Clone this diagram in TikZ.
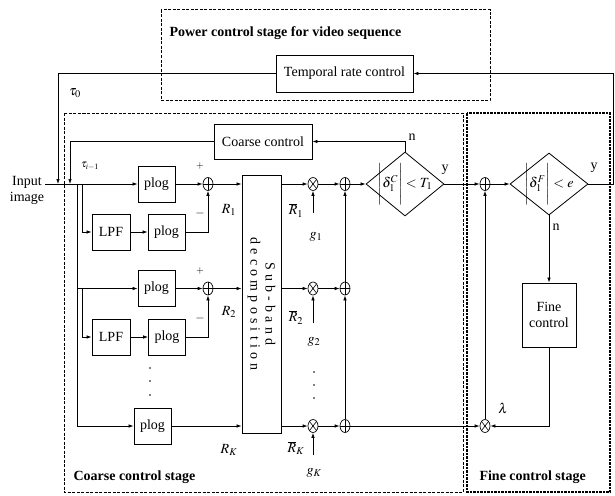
\documentclass[tikz,border=0pt]{standalone}
\usepackage{mathptmx}
\usepackage{fontspec}
\setmainfont{Liberation Serif}
\usetikzlibrary{arrows.meta,shapes.geometric}
\begin{document}
\begin{tikzpicture}[x=1pt,y=-1pt,
  font=\fontsize{14}{16}\selectfont,
  box/.style={draw, line width=0.8pt, inner sep=0pt, align=center},
  sumnode/.style={ellipse, draw, line width=0.7pt, minimum width=10pt, minimum height=13pt, inner sep=0pt,
    path picture={\draw[line width=0.6pt] (path picture bounding box.north)--(path picture bounding box.south)
      (path picture bounding box.west)--(path picture bounding box.east);}},
  mulnode/.style={ellipse, draw, line width=0.7pt, minimum width=10pt, minimum height=13pt, inner sep=0pt,
    path picture={\draw[line width=0.6pt] (path picture bounding box.north west)--(path picture bounding box.south east)
      (path picture bounding box.south west)--(path picture bounding box.north east);}},
  conn/.style={line width=0.7pt, -{Latex[length=5pt,width=3.5pt]}},
  wire/.style={line width=0.7pt},
  stagebox/.style={line width=1pt, dash pattern=on 3pt off 1.5pt},
  finebox/.style={line width=1.6pt, dash pattern=on 2.5pt off 1pt},
  stagelabel/.style={font=\fontsize{14}{16}\selectfont\bfseries},
  diam/.style={diamond, draw, line width=0.8pt, inner sep=0pt},
  dotc/.style={circle, fill, inner sep=0pt, minimum size=1.8pt}
]
\useasboundingbox (0,0) rectangle (615,495);

% stage boxes
\draw[stagebox] (161,10) rectangle (490,100);
\draw[stagebox] (64,113) rectangle (463,492);
\draw[finebox] (467,113) rectangle (610,492);
\node[stagelabel, anchor=west] (pcs) at (166,33) {Power control stage for video sequence};
\node[stagelabel, anchor=west] (ccs) at (70,477) {Coarse control stage};
\node[stagelabel, anchor=west] (fcs) at (476,477) {Fine control stage};

% blocks
\node[box, minimum width=137pt, minimum height=37pt] (temporal) at (344.5,73.5) {Temporal rate control};
\node[box, minimum width=98pt, minimum height=35pt] (coarse) at (263,141.5) {Coarse control};
\node[box, minimum width=37pt, minimum height=36pt] (plog1) at (156.5,184) {plog};
\node[box, minimum width=38pt, minimum height=36pt] (lpf1) at (111,232) {LPF};
\node[box, minimum width=37pt, minimum height=36pt] (plog1b) at (166.5,232) {plog};
\node[box, minimum width=37pt, minimum height=36pt] (plog2) at (156.5,288.5) {plog};
\node[box, minimum width=38pt, minimum height=36pt] (lpf2) at (111,337) {LPF};
\node[box, minimum width=37pt, minimum height=36pt] (plog2b) at (167,337) {plog};
\node[box, minimum width=37pt, minimum height=36pt] (plogN) at (152.5,426) {plog};
\node[box, minimum width=39pt, minimum height=258pt,
  label={[rotate=-90, align=center, font=\fontsize{14}{15}\selectfont\addfontfeature{LetterSpace=30}]center:Sub-band\\decomposition}] (sub) at (261.5,304) {};
\node[box, minimum width=54pt, minimum height=64pt] (fc) at (549,315) {Fine\\control};

% sum / product nodes
\node[sumnode] (s1) at (208,184) {};
\node[sumnode] (s2) at (208,288.5) {};
\node[mulnode] (m1) at (313,184) {};
\node[mulnode] (m2) at (313,288.5) {};
\node[mulnode] (mN) at (313,426) {};
\node[sumnode] (a1) at (345,184) {};
\node[sumnode] (a2) at (345,288.5) {};
\node[sumnode] (aN) at (345,426) {};
\node[sumnode] (s4) at (485,184) {};
\node[mulnode] (m4) at (485,426) {};

% decisions
\node[diam, minimum width=78pt, minimum height=64pt,
  label={center:$\Bigg|\delta_1^{C}\Bigg|<T_1$}] (d1) at (405,184) {};
\node[diam, minimum width=78pt, minimum height=62pt,
  label={center:$\Bigg|\delta_1^{F}\Bigg|<e$}] (d2) at (549,184) {};

% coordinates
\coordinate (inl) at (45,184);
\coordinate (t0) at (58,184);
\coordinate (ti) at (70,184);
\coordinate (b1) at (77,184);
\coordinate (b2) at (82,184);
\coordinate (b3) at (77,288.5);
\coordinate (b4) at (82,288.5);
\coordinate (outr) at (613,184);
\coordinate (g1c) at (313,213);
\coordinate (g2c) at (313,323);
\coordinate (gNc) at (313,455);

% left part
\node[align=center] (inp) at (27,190) {Input\\image};
\draw[conn] (inl) -- (plog1.west);
\draw[conn] (temporal.west) -| (t0);
\draw[conn] (coarse.west) -| (ti);
\draw[conn] (b1) |- (plogN.west);
\draw[conn] (b2) |- (lpf1.west);
\draw[conn] (b3) -- (plog2.west);
\draw[conn] (b4) |- (lpf2.west);
\draw[conn] (lpf1) -- (plog1b);
\draw[conn] (lpf2) -- (plog2b);
\draw[conn] (plog1) -- (s1);
\draw[conn] (plog2) -- (s2);
\draw[conn] (plog1b.east) -| (s1.south);
\draw[conn] (plog2b.east) -| (s2.south);
\draw[conn] (s1.east) -- (s1.east -| sub.west);
\draw[conn] (s2.east) -- (s2.east -| sub.west);
\draw[conn] (plogN.east) -- (plogN.east -| sub.west);

% right of sub-band
\draw[conn] (m1.west -| sub.east) -- (m1.west);
\draw[conn] (m2.west -| sub.east) -- (m2.west);
\draw[conn] (mN.west -| sub.east) -- (mN.west);
\draw[conn] (m1) -- (a1);
\draw[conn] (m2) -- (a2);
\draw[conn] (mN) -- (aN);
\draw[conn] (aN.north) -- (a2.south);
\draw[conn] (a2.north) -- (a1.south);
\draw[conn] (g1c) -- (m1.south);
\draw[conn] (g2c) -- (m2.south);
\draw[conn] (gNc) -- (mN.south);
\draw[conn] (a1) -- (d1.west);
\draw[conn] (d1.north) |- (coarse.east);
\draw[conn] (d1.east) -- (s4.west);
\draw[conn] (aN) -- (m4);
\draw[conn] (s4) -- (d2.west);
\draw[conn] (d2.south) -- (fc.north);
\draw[conn] (fc.south) |- (m4.east);
\draw[conn] (m4.north) -- (s4.south);
\draw[conn] (d2.east) -- (outr) |- (temporal.east);

% labels
\node (lt0) at (75,93) {$\tau_0$};
\node[font=\fontsize{11}{12}\selectfont] (lti) at (90,166) {$\tau_{i-1}$};
\node[font=\fontsize{10}{10}\selectfont] (p1) at (200,166) {$+$};
\node[font=\fontsize{10}{10}\selectfont] (p2) at (200,271) {$+$};
\node[font=\fontsize{12}{12}\selectfont] (n1) at (200,213) {$-$};
\node[font=\fontsize{12}{12}\selectfont] (n2) at (200,318) {$-$};
\node (r1) at (229,210) {$R_1$};
\node (r2) at (229,312) {$R_2$};
\node (rK) at (229,450) {$R_K$};
\node (rb1) at (296,210) {$\overline{R}_1$};
\node (rb2) at (296,317) {$\overline{R}_2$};
\node (rbK) at (296,448) {$\overline{R}_K$};
\node (lg1) at (316,237) {$g_1$};
\node (lg2) at (314,342) {$g_2$};
\node (lgK) at (314,473) {$g_K$};
\node (ln1) at (412,137) {n};
\node (ly1) at (445,170) {y};
\node (ly2) at (594,168) {y};
\node (ln2) at (556,227) {n};
\node (llam) at (503,408) {$\lambda$};

% dots
\node[dotc] at (150,368) {};
\node[dotc] at (150,381) {};
\node[dotc] at (150,395) {};
\node[dotc] at (314,372) {};
\node[dotc] at (314,385) {};
\node[dotc] at (314,398) {};
\end{tikzpicture}
\end{document}
